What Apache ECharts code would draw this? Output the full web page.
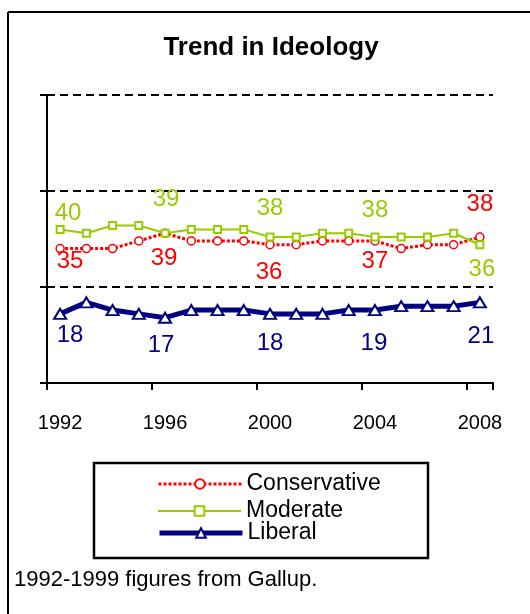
<!DOCTYPE html>
<html>
<head>
<meta charset="utf-8">
<script src="https://cdn.jsdelivr.net/npm/echarts@6/dist/echarts.min.js"></script>
<style>
  html, body { margin: 0; padding: 0; background: #fff; }
  #chart { width: 530px; height: 614px; }
</style>
</head>
<body>
<div id="chart"></div>
<script>
// Survey years and share of adults (%) identifying with each ideology
var years = ['1992','1993','1994','1995','1996','1997','1998','1999','2000',
             '2001','2002','2003','2004','2005','2006','2007','2008'];
var conservative = [35,35,35,37,39,37,37,37,36,36,37,37,37,35,36,36,38];
var moderate     = [40,39,41,41,39,40,40,40,38,38,39,39,38,38,38,39,36];
var liberal      = [18,21,19,18,17,19,19,19,18,18,18,19,19,20,20,20,21];
var yTicks = [0, 25, 50, 75];

// Points that carry a value label, with the label's nudge from the marker
var labelNudge = {
  Conservative: {0: [10, 13], 4: [-1, 25], 8: [-1, 28], 12: [0, 20], 16: [0, -33]},
  Moderate:     {0: [8, -16], 4: [1, -34], 8: [0, -29], 12: [0, -27], 16: [2, 25]},
  Liberal:      {0: [10, 21], 4: [-4, 28], 8: [0, 29], 12: [-1, 33], 16: [1, 34]}
};

var FONT = 'Liberation Sans, Arial, sans-serif';
var RED = '#FF0000', GREEN = '#99CC00', NAVY = '#000080';

var lineStyles = {
  Conservative: { color: RED, width: 3, type: [3, 2] },
  Moderate:     { color: GREEN, width: 2, type: 'solid' },
  Liberal:      { color: NAVY, width: 5, type: 'solid' }
};

function withLabels(name, values, color) {
  var nudge = labelNudge[name];
  return values.map(function (v, i) {
    if (!nudge[i]) return v;
    return {
      value: v,
      label: {
        show: true,
        position: 'inside',
        offset: nudge[i],
        formatter: '{c}',
        color: color,
        fontFamily: FONT,
        fontSize: 24
      }
    };
  });
}

var chart = echarts.init(document.getElementById('chart'), null, {renderer: 'canvas'});

function legendFor(name, centerY) {
  return {
    data: [name],
    left: 157,
    top: centerY - 12,
    padding: 0,
    itemWidth: 83,
    itemHeight: 12,
    selectedMode: false,
    lineStyle: lineStyles[name],
    textStyle: { color: '#000', fontFamily: FONT, fontSize: 23, lineHeight: 24 }
  };
}

chart.setOption({
  animation: false,
  backgroundColor: '#fff',
  grid: { left: 47, right: 37, top: 95, bottom: 231, containLabel: false },
  xAxis: {
    type: 'category',
    data: years,
    boundaryGap: true,
    axisLine: { lineStyle: { color: '#000', width: 2 } },
    axisTick: { show: true, interval: 3, length: 7, lineStyle: { color: '#000', width: 2 } },
    axisLabel: { interval: 3, margin: 30, color: '#000', fontFamily: FONT, fontSize: 20 },
    splitLine: { show: false }
  },
  yAxis: {
    type: 'value',
    min: yTicks[0],
    max: yTicks[yTicks.length - 1],
    interval: yTicks[1] - yTicks[0],
    axisLine: { show: true, lineStyle: { color: '#000', width: 2 } },
    axisTick: { show: true, length: 7, lineStyle: { color: '#000', width: 2 } },
    axisLabel: { show: false },
    splitLine: { show: true, lineStyle: { color: '#000', width: 2, type: [8, 5] } }
  },
  legend: [
    legendFor('Conservative', 484),
    legendFor('Moderate', 511),
    legendFor('Liberal', 533)
  ],
  series: [
    {
      name: 'Conservative',
      type: 'line',
      data: withLabels('Conservative', conservative, RED),
      symbol: 'circle',
      symbolSize: 8,
      showAllSymbol: true,
      lineStyle: lineStyles.Conservative,
      itemStyle: { color: '#fff', borderColor: RED, borderWidth: 1.5 },
      z: 2
    },
    {
      name: 'Moderate',
      type: 'line',
      data: withLabels('Moderate', moderate, GREEN),
      symbol: 'rect',
      symbolSize: 7,
      showAllSymbol: true,
      lineStyle: lineStyles.Moderate,
      itemStyle: { color: '#fff', borderColor: GREEN, borderWidth: 2 },
      z: 3
    },
    {
      name: 'Liberal',
      type: 'line',
      data: withLabels('Liberal', liberal, NAVY),
      symbol: 'triangle',
      symbolSize: [12, 10],
      showAllSymbol: true,
      lineStyle: lineStyles.Liberal,
      itemStyle: { color: '#fff', borderColor: NAVY, borderWidth: 2 },
      z: 4
    }
  ],
  graphic: [
    // outer frame (top and left edges)
    { type: 'line', shape: { x1: 8, y1: 12, x2: 530, y2: 12 }, style: { stroke: '#000', lineWidth: 2 } },
    { type: 'line', shape: { x1: 8, y1: 12, x2: 8, y2: 614 }, style: { stroke: '#000', lineWidth: 2 } },
    // title
    { type: 'text', x: 271, y: 48, style: {
        text: 'Trend in Ideology', fill: '#000', fontFamily: FONT, fontWeight: 'bold',
        fontSize: 26, textAlign: 'center', textVerticalAlign: 'middle' } },
    // legend box
    { type: 'rect', shape: { x: 94, y: 463, width: 334, height: 95 },
      style: { fill: 'none', stroke: '#000', lineWidth: 2.5 }, z: -1 },
    // source note
    { type: 'text', x: 14, y: 580, style: {
        text: '1992-1999 figures from Gallup.', fill: '#000', fontFamily: FONT,
        fontSize: 22, textAlign: 'left', textVerticalAlign: 'middle' } }
  ]
});
</script>
</body>
</html>
